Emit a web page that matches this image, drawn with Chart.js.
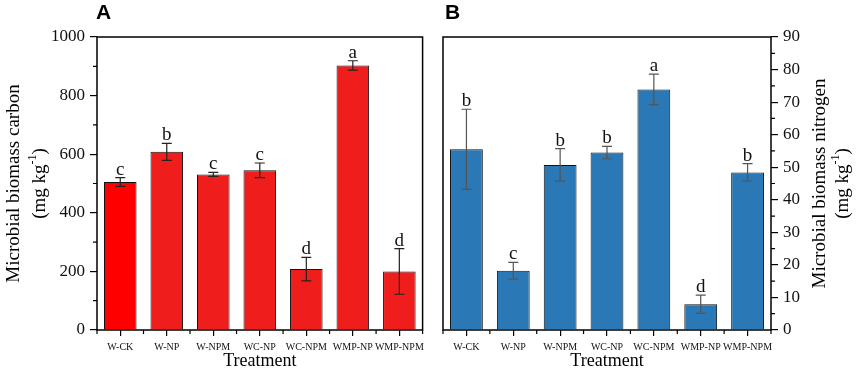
<!DOCTYPE html>
<html>
<head>
<meta charset="utf-8">
<script src="https://cdn.jsdelivr.net/npm/chart.js@4.4.1/dist/chart.umd.min.js"></script>
<style>
  html, body { margin: 0; padding: 0; background: #fff; }
  #wrap { position: relative; width: 858px; height: 370px; }
  .panel { position: absolute; top: 0; width: 429px; height: 370px; }
</style>
</head>
<body>
<div id="wrap">
  <div class="panel" style="left:0"><canvas id="chartA" width="429" height="370"></canvas></div>
  <div class="panel" style="left:429px"><canvas id="chartB" width="429" height="370"></canvas></div>
</div>
<script>
// ---- data ----
const treatments = ['W-CK', 'W-NP', 'W-NPM', 'WC-NP', 'WC-NPM', 'WMP-NP', 'WMP-NPM'];

const mbcValues  = [505, 608, 531, 545, 208, 903, 200];
const mbcErrors  = [15, 29, 7, 25, 40, 16, 78];
const mbcLetters = ['c', 'b', 'c', 'c', 'd', 'a', 'd'];
const mbcMajorTicks = [0, 200, 400, 600, 800, 1000];
const mbcMinorTicks = [100, 300, 500, 700, 900];

const mbnValues  = [55.5, 18.2, 50.7, 54.5, 73.9, 7.9, 48.4];
const mbnErrors  = [12.3, 2.6, 5.0, 1.9, 4.7, 2.8, 2.7];
const mbnLetters = ['b', 'c', 'b', 'b', 'a', 'd', 'b'];
const mbnMajorTicks = [0, 10, 20, 30, 40, 50, 60, 70, 80, 90];
const mbnMinorTicks = [5, 15, 25, 35, 45, 55, 65, 75, 85];

const SERIF = '"Liberation Serif", "Times New Roman", serif';
const SANS = '"Liberation Sans", Arial, sans-serif';

// draws "(mg kg-1)" style text with a superscript, centred at 0,0 (already rotated)
function drawUnit(ctx, size) {
  const small = Math.round(size * 0.62);
  ctx.font = size + 'px ' + SERIF;
  const a = '(mg kg', c = ')';
  const wa = ctx.measureText(a).width, wc = ctx.measureText(c).width;
  ctx.font = small + 'px ' + SERIF;
  const wb = ctx.measureText('-1').width;
  let x = -(wa + wb + wc) / 2;
  ctx.textAlign = 'left';
  ctx.textBaseline = 'middle';
  ctx.font = size + 'px ' + SERIF;
  ctx.fillText(a, x, 0);
  x += wa;
  ctx.font = small + 'px ' + SERIF;
  ctx.fillText('-1', x, -size * 0.38);
  x += wb;
  ctx.font = size + 'px ' + SERIF;
  ctx.fillText(c, x, 0);
}

function makeChart(id, opt) {
  const extras = {
    id: 'extras' + id,
    afterDatasetsDraw(chart) {
      const ctx = chart.ctx;
      const area = chart.chartArea;
      const x = chart.scales.x, y = chart.scales.y;
      const meta = chart.getDatasetMeta(0);
      ctx.save();
      // error bars + letters
      meta.data.forEach((bar, i) => {
        const v = opt.values[i], e = opt.errors[i];
        const yt = y.getPixelForValue(v + e), yb = y.getPixelForValue(v - e);
        ctx.strokeStyle = opt.errColor;
        ctx.lineWidth = 1.2;
        ctx.beginPath();
        ctx.moveTo(bar.x, yt); ctx.lineTo(bar.x, yb);
        ctx.moveTo(bar.x - 5, yt); ctx.lineTo(bar.x + 5, yt);
        ctx.moveTo(bar.x - 5, yb); ctx.lineTo(bar.x + 5, yb);
        ctx.stroke();
        ctx.fillStyle = '#111';
        ctx.font = '19px ' + SERIF;
        ctx.textAlign = 'center';
        ctx.textBaseline = 'alphabetic';
        ctx.fillText(opt.letters[i], bar.x, yt - 3);
      });
      // frame
      ctx.strokeStyle = '#000';
      ctx.lineWidth = 1.5;
      ctx.strokeRect(area.left, area.top, area.right - area.left, area.bottom - area.top);
      // minor ticks on y
      ctx.lineWidth = 1.2;
      ctx.beginPath();
      opt.minorTicks.forEach(t => {
        const py = y.getPixelForValue(t);
        if (opt.side === 'left') { ctx.moveTo(area.left, py); ctx.lineTo(area.left - 4, py); }
        else { ctx.moveTo(area.right, py); ctx.lineTo(area.right + 4, py); }
      });
      // minor ticks on x at category boundaries
      for (let i = 0; i <= treatments.length; i++) {
        const px = x.getPixelForValue(i - 0.5);
        ctx.moveTo(px, area.bottom); ctx.lineTo(px, area.bottom + 4);
      }
      ctx.stroke();
      // x title
      ctx.fillStyle = '#000';
      ctx.font = '18px ' + SERIF;
      ctx.textAlign = 'center';
      ctx.textBaseline = 'middle';
      ctx.fillText('Treatment', (area.left + area.right) / 2, 361);
      // y title (two lines, rotated)
      const cy = (area.top + area.bottom) / 2;
      ctx.save();
      ctx.translate(opt.titleX1, cy);
      ctx.rotate(-Math.PI / 2);
      ctx.font = '19px ' + SERIF;
      ctx.fillText(opt.yTitle, 0, 0);
      ctx.restore();
      ctx.save();
      ctx.translate(opt.titleX2, cy);
      ctx.rotate(-Math.PI / 2);
      drawUnit(ctx, 19);
      ctx.restore();
      // panel letter
      ctx.font = 'bold 21px ' + SANS;
      ctx.textAlign = 'left';
      ctx.textBaseline = 'middle';
      ctx.fillText(opt.panel, opt.panelX, 13);
      ctx.restore();
    }
  };

  return new Chart(document.getElementById(id), {
    type: 'bar',
    data: {
      labels: treatments,
      datasets: [{
        data: opt.values,
        backgroundColor: opt.colors,
        borderColor: '#111',
        borderWidth: 1,
        barPercentage: 0.7,
        categoryPercentage: 1.0
      }]
    },
    options: {
      responsive: false,
      animation: false,
      devicePixelRatio: 1,
      layout: { padding: opt.padding },
      plugins: { legend: { display: false }, tooltip: { enabled: false } },
      scales: {
        x: {
          grid: { display: true, drawOnChartArea: false, offset: false, tickLength: 6, color: '#000', lineWidth: 1.2 },
          border: { display: false },
          ticks: { color: '#111', font: { family: SERIF, size: 10 }, padding: 5, maxRotation: 0, autoSkip: false },
          afterFit: s => { s.height = 40; }
        },
        y: {
          position: opt.side,
          min: 0,
          max: opt.max,
          afterBuildTicks: s => { s.ticks = opt.majorTicks.map(v => ({ value: v })); },
          grid: { display: true, drawOnChartArea: false, tickLength: 7, color: '#000', lineWidth: 1.2 },
          border: { display: false },
          ticks: { color: '#111', font: { family: SERIF, size: 17 }, padding: 5, callback: v => String(v) },
          afterFit: s => { s.width = opt.axisWidth; }
        }
      }
    },
    plugins: [extras]
  });
}

makeChart('chartA', {
  values: mbcValues, errors: mbcErrors, letters: mbcLetters,
  majorTicks: mbcMajorTicks, minorTicks: mbcMinorTicks, max: 1000,
  colors: ['#fe0000', '#f01d1d', '#f01d1d', '#f01d1d', '#f01d1d', '#f01d1d', '#f01d1d'],
  errColor: '#222', side: 'left', axisWidth: 97,
  padding: { top: 37, right: 3, left: 0, bottom: 0 },
  yTitle: 'Microbial biomass carbon', titleX1: 14, titleX2: 40,
  panel: 'A', panelX: 96
});

makeChart('chartB', {
  values: mbnValues, errors: mbnErrors, letters: mbnLetters,
  majorTicks: mbnMajorTicks, minorTicks: mbnMinorTicks, max: 90,
  colors: '#2a78b5',
  errColor: '#555', side: 'right', axisWidth: 87,
  padding: { top: 37, right: 0, left: 14, bottom: 0 },
  yTitle: 'Microbial biomass nitrogen', titleX1: 391, titleX2: 414,
  panel: 'B', panelX: 16
});
</script>
</body>
</html>
